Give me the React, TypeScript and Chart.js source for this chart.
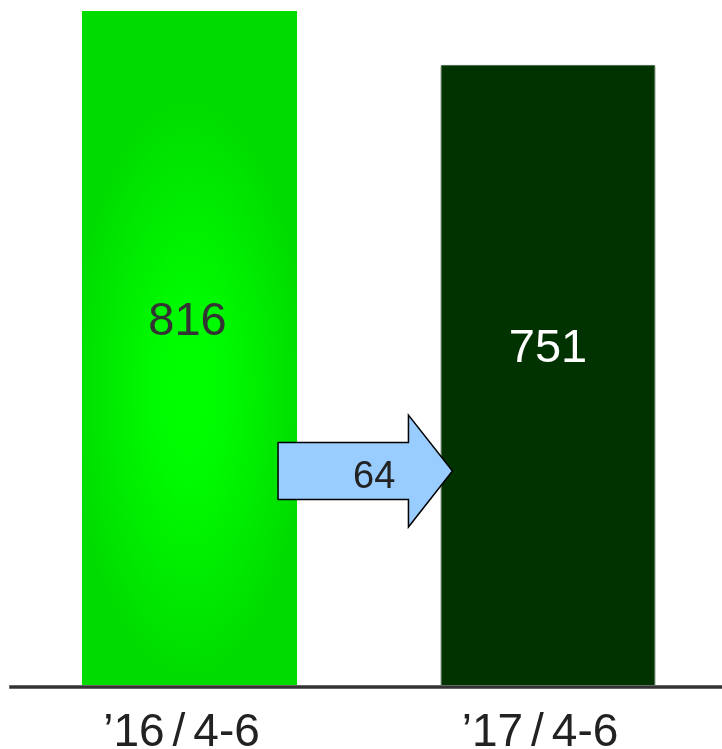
import React, { useEffect, useRef } from "react";
import { Chart, registerables } from "chart.js";

Chart.register(...registerables);

const categories = ["’16/4-6", "’17/4-6"];
const values = [816, 751];
const changeLabel = "64";
const arrowLevel = 259;

const overlay = {
  id: "overlay",
  afterDatasetsDraw(chart: any) {
    const ctx: CanvasRenderingContext2D = chart.ctx;
    const area = chart.chartArea;
    const meta = chart.getDatasetMeta(0);
    const bars = meta.data.map((b: any) => b.getProps(["x", "y", "base", "width"], true));

    // radial highlight on first bar
    const b0 = bars[0];
    ctx.save();
    ctx.beginPath();
    ctx.rect(b0.x - b0.width / 2, b0.y, b0.width, b0.base - b0.y);
    ctx.clip();
    const cy = b0.y + (b0.base - b0.y) * 0.56;
    const r = (b0.width / 2) * 1.08;
    ctx.translate(b0.x, cy);
    ctx.scale(1, 2.5);
    const g = ctx.createRadialGradient(0, 0, 0, 0, 0, r);
    g.addColorStop(0, "#00ff00");
    g.addColorStop(0.3, "#00fb00");
    g.addColorStop(1, "#00dc00");
    ctx.fillStyle = g;
    ctx.fillRect(-r * 2, -r * 2, r * 4, r * 4);
    ctx.restore();

    // value labels
    const labelColors = ["#333333", "#ffffff"];
    const labelShift = [-2, 0];
    ctx.save();
    ctx.font = "47px 'Liberation Sans', Arial, sans-serif";
    ctx.textAlign = "center";
    ctx.textBaseline = "alphabetic";
    bars.forEach((b: any, i: number) => {
      ctx.fillStyle = labelColors[i];
      const mid = (b.y + b.base) / 2;
      ctx.fillText(String(values[i]), b.x + labelShift[i], mid - 13);
    });
    ctx.restore();

    // arrow
    const b1 = bars[1];
    const yScale = chart.scales.y;
    const acy = yScale.getPixelForValue(arrowLevel);
    const bodyL = b0.x + b0.width / 2 - 19;
    const tip = b1.x - b1.width / 2 + 12;
    const headBase = tip - 44;
    const bh = 28.5;
    const hh = 56;
    ctx.save();
    ctx.beginPath();
    ctx.moveTo(bodyL, acy - bh);
    ctx.lineTo(headBase, acy - bh);
    ctx.lineTo(headBase, acy - hh);
    ctx.lineTo(tip, acy);
    ctx.lineTo(headBase, acy + hh);
    ctx.lineTo(headBase, acy + bh);
    ctx.lineTo(bodyL, acy + bh);
    ctx.closePath();
    ctx.fillStyle = "#99ccff";
    ctx.fill();
    ctx.lineWidth = 1.5;
    ctx.strokeStyle = "#000000";
    ctx.lineJoin = "miter";
    ctx.stroke();
    ctx.font = "38px 'Liberation Sans', Arial, sans-serif";
    ctx.fillStyle = "#222222";
    ctx.textAlign = "center";
    ctx.textBaseline = "alphabetic";
    ctx.fillText(changeLabel, (bodyL + headBase) / 2 + 31, acy + 17);
    ctx.restore();

    // baseline
    ctx.save();
    ctx.strokeStyle = "#333333";
    ctx.lineWidth = 3.5;
    ctx.beginPath();
    ctx.moveTo(area.left - 1, area.bottom + 2);
    ctx.lineTo(chart.width, area.bottom + 2);
    ctx.stroke();
    ctx.restore();

    // category labels (wider spacing around the slash)
    const xScale = chart.scales.x;
    ctx.save();
    ctx.font = "46px 'Liberation Sans', Arial, sans-serif";
    ctx.fillStyle = "#222222";
    ctx.textAlign = "left";
    ctx.textBaseline = "alphabetic";
    const gap = 8;
    categories.forEach((c, i) => {
      const idx = c.indexOf("/");
      const p1 = c.slice(0, idx);
      const sl = "/";
      const p2 = c.slice(idx + 1);
      const w1 = ctx.measureText(p1).width;
      const ws = ctx.measureText(sl).width;
      const w2 = ctx.measureText(p2).width;
      const total = w1 + gap + ws + gap + w2;
      let x = xScale.getPixelForValue(i) - 8 - total / 2;
      const yb = area.bottom + 61;
      ctx.fillText(p1, x, yb);
      x += w1 + gap;
      ctx.fillText(sl, x, yb);
      x += ws + gap;
      ctx.fillText(p2, x, yb);
    });
    ctx.restore();
  },
};

export default function App() {
  const ref = useRef<HTMLCanvasElement | null>(null);
  useEffect(() => {
    if (!ref.current) return;
    const chart = new Chart(ref.current, {
      type: "bar",
      data: {
        labels: categories,
        datasets: [
          {
            data: values,
            backgroundColor: ["#00dc00", "#003300"],
            borderColor: ["#00dc00", "#3d5a3d"],
            borderWidth: [0, 1],
            borderSkipped: "bottom",
            borderRadius: [0, 2],
            categoryPercentage: 1,
            barPercentage: 0.6,
          },
        ],
      },
      options: {
        responsive: false,
        animation: false,
        devicePixelRatio: 1,
        layout: { padding: { left: 10.25, right: 2.75, top: 11, bottom: 64 } },
        plugins: { legend: { display: false }, tooltip: { enabled: false }, title: { display: false } },
        scales: {
          x: { display: false },
          y: { display: false, min: 0, max: 816 },
        },
      },
      plugins: [overlay],
    });
    return () => chart.destroy();
  }, []);
  return (
    <div style={{ position: "fixed", left: 0, top: 0, width: 722, height: 749, overflow: "hidden", background: "#fff" }}>
      <canvas ref={ref} width={730} height={749} style={{ display: "block" }} />
    </div>
  );
}
